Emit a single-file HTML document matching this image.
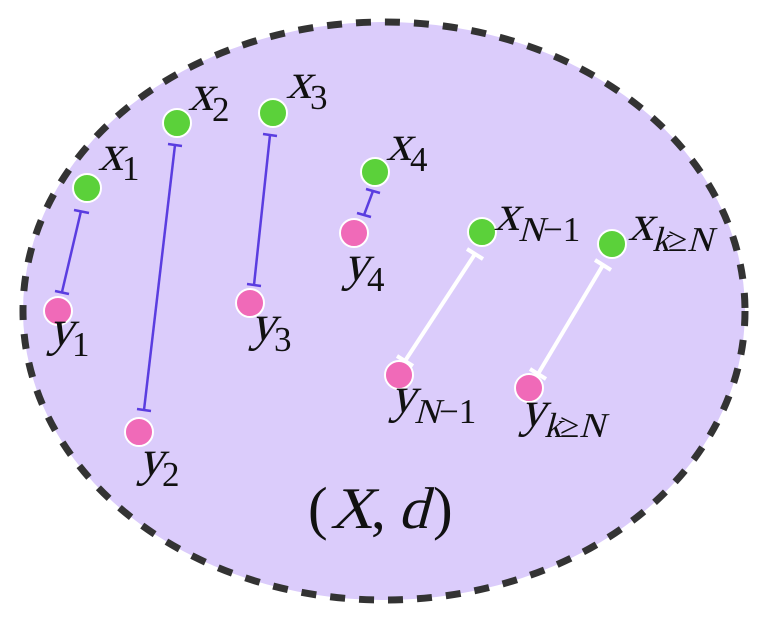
<!DOCTYPE html>
<html><head><meta charset="utf-8"><style>
html,body{margin:0;padding:0;background:#fff;}
svg{display:block}
</style></head><body>
<svg width="768" height="627" viewBox="0 0 768 627" xmlns="http://www.w3.org/2000/svg">
<ellipse cx="384" cy="311" rx="361" ry="289" fill="#dbccfb" stroke="#333" stroke-width="7" stroke-dasharray="15 14"/>
<g stroke="#5a3de0" stroke-width="2.5" fill="none">
<line x1="81" y1="211" x2="62" y2="292"/><line x1="74" y1="210" x2="89" y2="213"/><line x1="55" y1="291" x2="69" y2="294"/>
<line x1="175" y1="145" x2="144" y2="410"/><line x1="168" y1="144" x2="182" y2="146"/><line x1="137" y1="409" x2="151" y2="411"/>
<line x1="270" y1="135" x2="254" y2="285"/><line x1="263" y1="134" x2="277" y2="136"/><line x1="247" y1="284" x2="261" y2="286"/>
<line x1="373" y1="191" x2="364" y2="215"/><line x1="366" y1="189" x2="380" y2="193"/><line x1="357" y1="213" x2="371" y2="217"/>
</g>
<g stroke="#fff" stroke-width="4" fill="none">
<line x1="475" y1="254" x2="405" y2="361"/><line x1="467" y1="249" x2="483" y2="259"/><line x1="397" y1="356" x2="413" y2="366"/>
<line x1="603" y1="265" x2="538" y2="374"/><line x1="595" y1="260" x2="611" y2="270"/><line x1="530" y1="369" x2="546" y2="379"/>
</g>
<g stroke="#fff" stroke-width="2" fill="#5bd13a">
<circle cx="87" cy="188" r="14"/><circle cx="177" cy="123" r="14"/><circle cx="273" cy="113" r="14"/><circle cx="375" cy="172" r="14"/><circle cx="482" cy="232" r="14"/><circle cx="612" cy="244" r="14"/>
</g>
<g stroke="#fff" stroke-width="2" fill="#f06ab8">
<circle cx="58" cy="311" r="14"/><circle cx="139" cy="432" r="14"/><circle cx="250" cy="303" r="14"/><circle cx="354" cy="233" r="14"/><circle cx="399" cy="375" r="14"/><circle cx="529" cy="388" r="14"/>
</g>
<g font-family="'Liberation Serif', serif" font-size="51" fill="#111">
<text transform="translate(98,170) skewX(-15)">x</text><text x="122" y="180" font-size="35">1</text>
<text transform="translate(188,110) skewX(-15)">x</text><text x="212" y="121" font-size="35">2</text>
<text transform="translate(286,98) skewX(-15)">x</text><text x="310" y="109" font-size="35">3</text>
<text transform="translate(386,160) skewX(-15)">x</text><text x="410" y="171" font-size="35">4</text>
<text transform="translate(494,230) skewX(-15)">x</text><text transform="translate(518,241) skewX(-15)" font-size="35">N</text><text x="543" y="241" font-size="35">−1</text>
<text transform="translate(628,240) skewX(-15)">x</text><text transform="translate(652,251) skewX(-15)" font-size="35">k</text><text x="668" y="251" font-size="35">≥</text><text transform="translate(687,251) skewX(-15)" font-size="35">N</text>
<text transform="translate(48,345) skewX(-15)">y</text><text x="72" y="356" font-size="35">1</text>
<text transform="translate(138,475) skewX(-15)">y</text><text x="162" y="486" font-size="35">2</text>
<text transform="translate(250,340) skewX(-15)">y</text><text x="274" y="351" font-size="35">3</text>
<text transform="translate(343,280) skewX(-15)">y</text><text x="367" y="291" font-size="35">4</text>
<text transform="translate(390,412) skewX(-15)">y</text><text transform="translate(414,423) skewX(-15)" font-size="35">N</text><text x="439" y="423" font-size="35">−1</text>
<text transform="translate(520,426) skewX(-15)">y</text><text transform="translate(544,437) skewX(-15)" font-size="35">k</text><text x="560" y="437" font-size="35">≥</text><text transform="translate(579,437) skewX(-15)" font-size="35">N</text>
<text x="308" y="528" font-size="59">(</text>
<text transform="translate(330,528) skewX(-15)" font-size="59">X</text>
<text x="371" y="528" font-size="59">,</text>
<text transform="translate(398,528) skewX(-15)" font-size="59">d</text>
<text x="433" y="528" font-size="59">)</text>
</g>
</svg>
</body></html>
